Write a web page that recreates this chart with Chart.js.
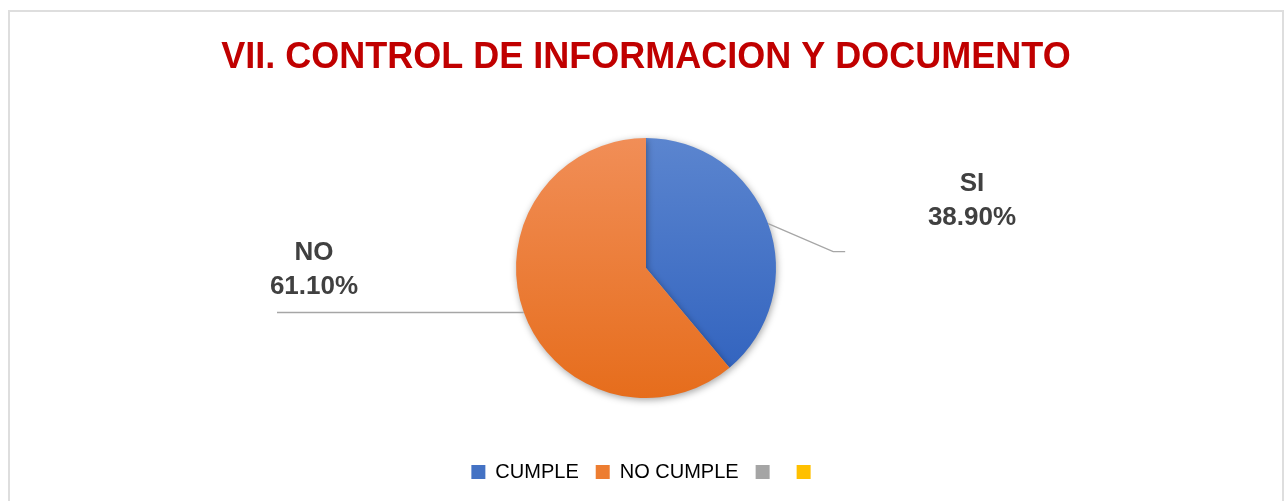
<!DOCTYPE html>
<html>
<head>
<meta charset="utf-8">
<script src="https://cdn.jsdelivr.net/npm/chart.js"></script>
<style>
    html, body { margin: 0; padding: 0; background: #fff; }
    #marco {
        position: absolute; left: 8px; top: 10px;
        width: 1272px; height: 489px;
        border: 2px solid #dedede; border-bottom: none;
    }
</style>
</head>
<body>
<div id="marco"><canvas id="grafico" width="1272" height="489"></canvas></div>
<script>
// datos del grafico
const categorias = ['CUMPLE', 'NO CUMPLE', '', ''];
const valores = [38.9, 61.1, 0, 0];
const nombresDato = ['SI', 'NO', '', ''];
const coloresArriba = ['#5B85CF', '#F18E57', '#A5A5A5', '#FFC000'];
const coloresAbajo = ['#2E60BD', '#E66D1C', '#A5A5A5', '#FFC000'];

const RADIO = 130;

// degradado vertical como en Excel
function colorPorcion(c) {
    const i = c.dataIndex;
    const ca = c.chart.chartArea;
    if (!ca) return coloresArriba[i];
    const cy = (ca.top + ca.bottom) / 2;
    const g = c.chart.ctx.createLinearGradient(0, cy - RADIO, 0, cy + RADIO);
    g.addColorStop(0, coloresArriba[i]);
    g.addColorStop(1, coloresAbajo[i]);
    return g;
}

// sombra suave bajo el pastel
const sombra = {
    id: 'sombra',
    beforeDatasetsDraw(chart) {
        const ctx = chart.ctx;
        ctx.save();
        ctx.shadowColor = 'rgba(0,0,0,0.35)';
        ctx.shadowBlur = 7;
        ctx.shadowOffsetX = 1;
        ctx.shadowOffsetY = 2;
    },
    afterDatasetsDraw(chart) {
        chart.ctx.restore();
    }
};

// etiquetas de datos con lineas guia
const colocacion = [
    { texto: [326, -84], codo: [65, 28], fin: 12 },
    { texto: [-332, -15], codo: null, fin: -369 }
];

const etiquetasDatos = {
    id: 'etiquetasDatos',
    afterDraw(chart) {
        const ctx = chart.ctx;
        const meta = chart.getDatasetMeta(0);
        meta.data.forEach((arc, i) => {
            if (!nombresDato[i] || !colocacion[i]) return;
            const p = arc.getProps(['x', 'y', 'startAngle', 'endAngle', 'outerRadius'], true);
            const med = (p.startAngle + p.endAngle) / 2;
            const ex = p.x + Math.cos(med) * p.outerRadius;
            const ey = p.y + Math.sin(med) * p.outerRadius;
            const cfg = colocacion[i];

            ctx.save();
            ctx.strokeStyle = '#A6A6A6';
            ctx.lineWidth = 1.3;
            ctx.beginPath();
            ctx.moveTo(ex, ey);
            if (cfg.codo) {
                const kx = ex + cfg.codo[0], ky = ey + cfg.codo[1];
                ctx.lineTo(kx, ky);
                ctx.lineTo(kx + cfg.fin, ky);
            } else {
                ctx.lineTo(p.x + cfg.fin, ey);
            }
            ctx.stroke();

            ctx.fillStyle = '#404040';
            ctx.font = 'bold 26px "Liberation Sans", Arial, sans-serif';
            ctx.textAlign = 'center';
            ctx.textBaseline = 'middle';
            const tx = p.x + cfg.texto[0];
            const ty = p.y + cfg.texto[1];
            ctx.fillText(nombresDato[i], tx, ty);
            ctx.fillText(valores[i].toFixed(2) + '%', tx, ty + 34);
            ctx.restore();
        });
    }
};

const ctx = document.getElementById('grafico').getContext('2d');
new Chart(ctx, {
    type: 'pie',
    data: {
        labels: categorias,
        datasets: [{
            data: valores,
            backgroundColor: colorPorcion,
            borderWidth: 0
        }]
    },
    options: {
        responsive: false,
        animation: false,
        radius: RADIO,
        layout: { padding: { bottom: 9 } },
        plugins: {
            title: {
                display: true,
                text: 'VII. CONTROL DE INFORMACION Y DOCUMENTO',
                color: '#C00000',
                font: { family: '"Liberation Sans", Arial, sans-serif', size: 36, weight: 'bold', lineHeight: 1.2 },
                padding: { top: 24, bottom: 12 }
            },
            legend: {
                position: 'bottom',
                labels: {
                    color: '#595959',
                    font: { family: '"Liberation Sans", Arial, sans-serif', size: 20 },
                    boxWidth: 14,
                    boxHeight: 14,
                    padding: 17,
                    generateLabels(chart) {
                        return categorias.map((t, i) => ({
                            text: t,
                            fillStyle: i < 2 ? (i === 0 ? '#4472C4' : '#ED7D31') : coloresArriba[i],
                            strokeStyle: 'transparent',
                            lineWidth: 0,
                            hidden: false,
                            index: i
                        }));
                    }
                }
            },
            tooltip: { enabled: false }
        }
    },
    plugins: [sombra, etiquetasDatos]
});
</script>
</body>
</html>
